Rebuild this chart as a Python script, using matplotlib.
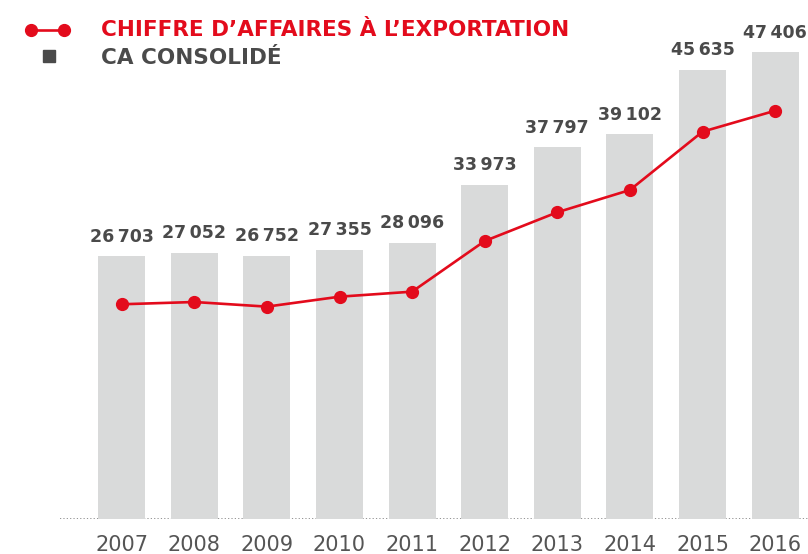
import matplotlib.pyplot as plt
import numpy as np
from matplotlib.lines import Line2D

years = ['2007', '2008', '2009', '2010', '2011', '2012', '2013', '2014', '2015', '2016']
ca_consolide = [26703, 27052, 26752, 27355, 28096, 33973, 37797, 39102, 45635, 47406]
ca_export = [21830, 22060, 21590, 22600, 23110, 28250, 31170, 33430, 39350, 41480]

RED = '#e30b1c'
BAR_GREY = '#d9dada'
DARK = '#4a4a4a'
TICK_GREY = '#555555'


def fmt(v):
    s = f'{v:,}'
    return s.replace(',', '\u2009')


def main():
    plt.rcParams['font.family'] = ['DejaVu Sans']

    fig = plt.figure(figsize=(8.08, 5.54), dpi=100)
    ax = fig.add_axes([60 / 808, 34.7 / 554, 748 / 808, 519.3 / 554])

    x = np.arange(len(years))
    ax.bar(x, ca_consolide, width=0.65, color=BAR_GREY, zorder=1)
    ax.plot(x, ca_export, color=RED, lw=1.9, marker='o', markersize=8.5,
            zorder=3)

    for xi, v in zip(x, ca_consolide):
        ax.annotate(fmt(v), (xi, v), xytext=(0, 7.5), textcoords='offset points',
                    ha='center', va='bottom', fontsize=12.5, fontweight='bold',
                    color=DARK)

    ax.axhline(0, color='#777777', lw=1.1, ls=(0, (0.8, 1.4)), zorder=0)

    # 72.6 px per category, first bar centred at 121.7 px
    ax.set_xlim(-61.7 / 72.6, 686.3 / 72.6)
    ax.set_ylim(0, 52720)
    ax.set_xticks(x)
    ax.set_xticklabels(years, fontsize=15, color=TICK_GREY)
    ax.tick_params(axis='x', length=0, pad=11)
    ax.set_yticks([])
    for s in ax.spines.values():
        s.set_visible(False)

    # legend drawn by hand at the top left
    fig.add_artist(Line2D([31 / 808, 64 / 808], [1 - 30 / 554, 1 - 30 / 554],
                          transform=fig.transFigure, color=RED, lw=1.9,
                          marker='o', markersize=8.5))
    fig.add_artist(Line2D([49 / 808], [1 - 56 / 554], transform=fig.transFigure,
                          color=DARK, marker='s', markersize=9, lw=0))
    fig.text(101 / 808, 1 - 35.5 / 554, 'CHIFFRE D\u2019AFFAIRES \u00c0 L\u2019EXPORTATION',
             fontsize=15.5, fontweight='bold', color=RED, va='baseline')
    fig.text(101 / 808, 1 - 63.5 / 554, 'CA CONSOLID\u00c9',
             fontsize=15.5, fontweight='bold', color=DARK, va='baseline')

    fig.savefig('out.png', dpi=100)


if __name__ == '__main__':
    main()
